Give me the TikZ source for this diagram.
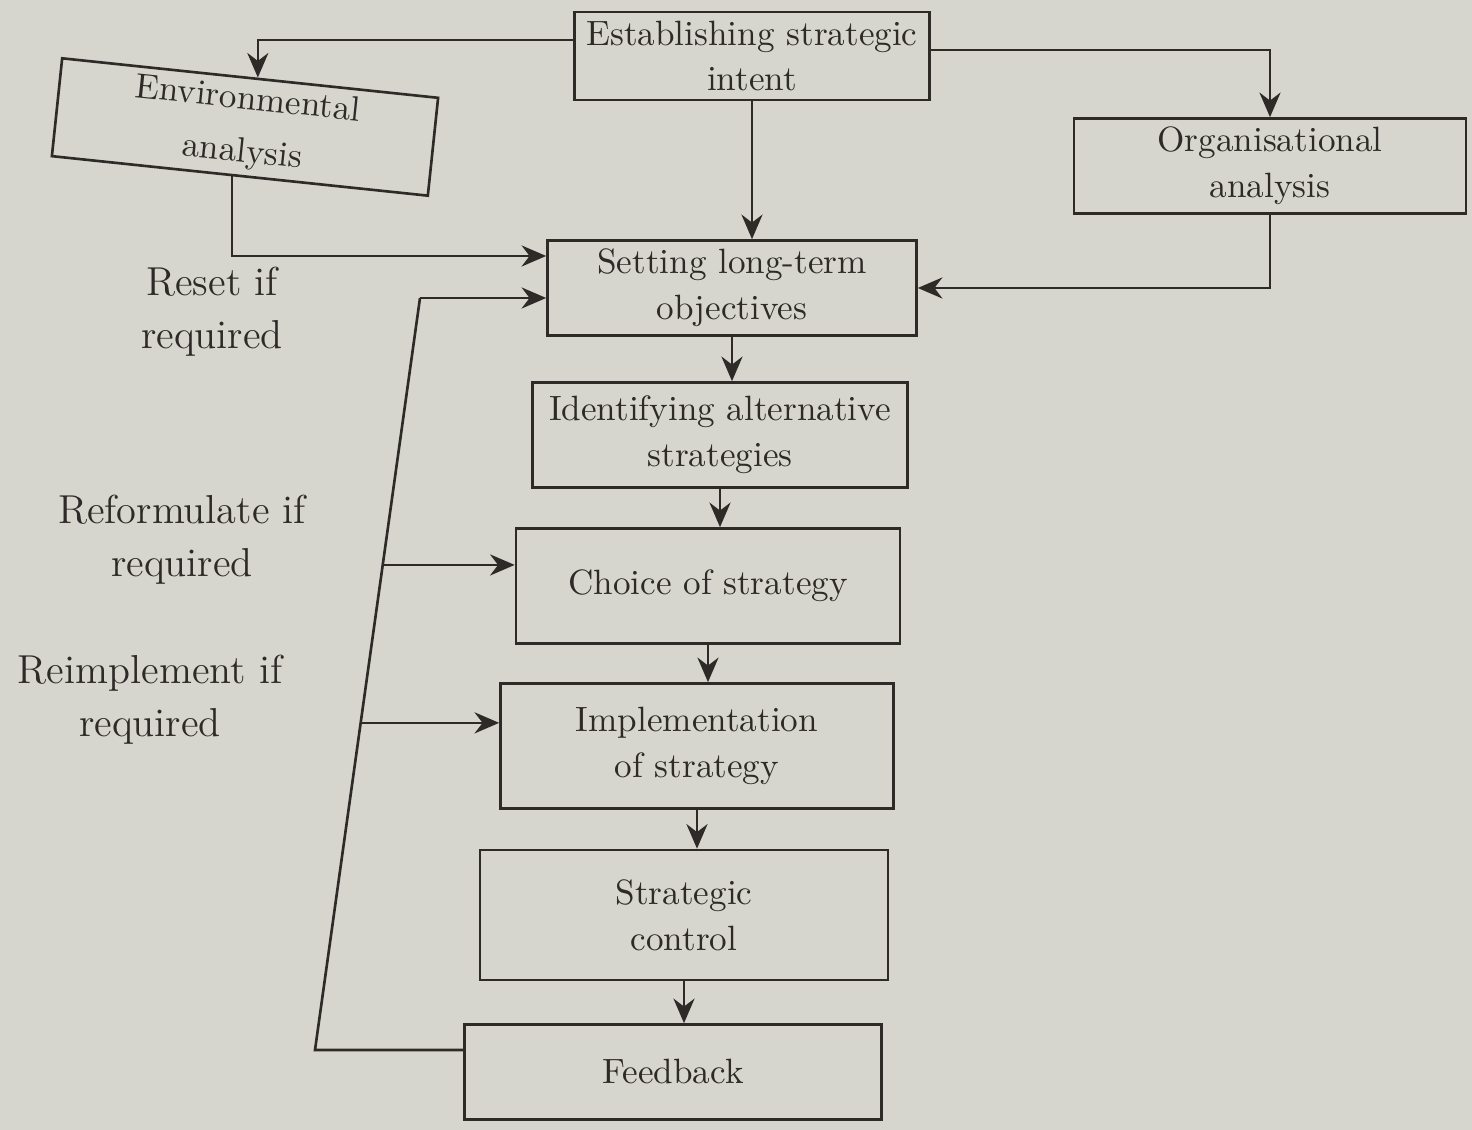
\documentclass[tikz,border=0pt]{standalone}
\usetikzlibrary{arrows.meta,calc}
\definecolor{paper}{RGB}{214,214,206}
\definecolor{ink}{RGB}{45,42,40}
\tikzset{
  box/.style={draw=ink, line width=0.75pt, align=center, inner sep=2pt,
    font=\fontsize{10}{13}\selectfont, text=ink},
  conn/.style={draw=ink, line width=0.75pt},
  arr/.style={conn, -{Stealth[length=7pt,width=6pt]}},
  lbl/.style={align=center, font=\fontsize{11.5}{15}\selectfont, text=ink}
}
\begin{document}
\begin{tikzpicture}
\useasboundingbox[fill=paper] (0,0) rectangle (14.72,-11.30);

\node[box, minimum width=3.55cm, minimum height=0.88cm] (est) at (7.52,-0.56) {Establishing strategic\\intent};
\node[box, minimum width=3.78cm, minimum height=0.95cm, rotate=-6,
      font=\fontsize{10}{15}\selectfont] (env) at (2.45,-1.27) {Environmental\\analysis};
\node[box, minimum width=3.92cm, minimum height=0.95cm] (org) at (12.70,-1.66) {Organisational\\analysis};
\node[box, minimum width=3.69cm, minimum height=0.95cm] (set) at (7.32,-2.88) {Setting long-term\\objectives};
\node[box, minimum width=3.75cm, minimum height=1.05cm] (ide) at (7.20,-4.35) {Identifying alternative\\strategies};
\node[box, minimum width=3.84cm, minimum height=1.15cm] (cho) at (7.08,-5.86) {Choice of strategy};
\node[box, minimum width=3.93cm, minimum height=1.25cm] (imp) at (6.97,-7.46) {Implementation\\of strategy};
\node[box, minimum width=4.08cm, minimum height=1.30cm] (str) at (6.84,-9.15) {Strategic\\control};
\node[box, minimum width=4.17cm, minimum height=0.95cm] (fee) at (6.73,-10.72) {Feedback};

\node[lbl] (l1) at (2.12,-3.12) {Reset if\\required};
\node[lbl] (l2) at (1.82,-5.40) {Reformulate if\\required};
\node[lbl] (l3) at (1.50,-7.00) {Reimplement if\\required};

% top connectors
\coordinate (envtop) at ($(env.north west)!0.52!(env.north east)$);
\coordinate (envbot) at ($(env.south west)!0.48!(env.south east)$);
\draw[arr] ([yshift=0.16cm]est.west) -| (envtop);
\draw[arr] ([yshift=0.06cm]est.east) -| (org.north);
\draw[arr] (est.south) -- (est.south |- set.north);
\draw[arr] (envbot) |- ([yshift=0.32cm]set.west);
\draw[arr] (org.south) |- (set.east);

% main chain
\draw[arr] (set.south) -- (set.south |- ide.north);
\draw[arr] (ide.south) -- (ide.south |- cho.north);
\draw[arr] (cho.south) -- (cho.south |- imp.north);
\draw[arr] (imp.south) -- (imp.south |- str.north);
\draw[arr] (str.south) -- (str.south |- fee.north);

% feedback loop
\coordinate (fb1) at (3.15,-10.50);
\coordinate (fb2) at (4.20,-2.98);
\coordinate (br1) at ($(fb1)!0.645!(fb2)$);
\coordinate (br2) at ($(fb1)!0.435!(fb2)$);
\draw[conn] (fee.west |- fb1) -- (fb1) -- (fb2);
\draw[arr] (fb2) -- (fb2 -| set.west);
\draw[arr] (br1) -- (br1 -| cho.west);
\draw[arr] (br2) -- (br2 -| imp.west);
\end{tikzpicture}
\end{document}
